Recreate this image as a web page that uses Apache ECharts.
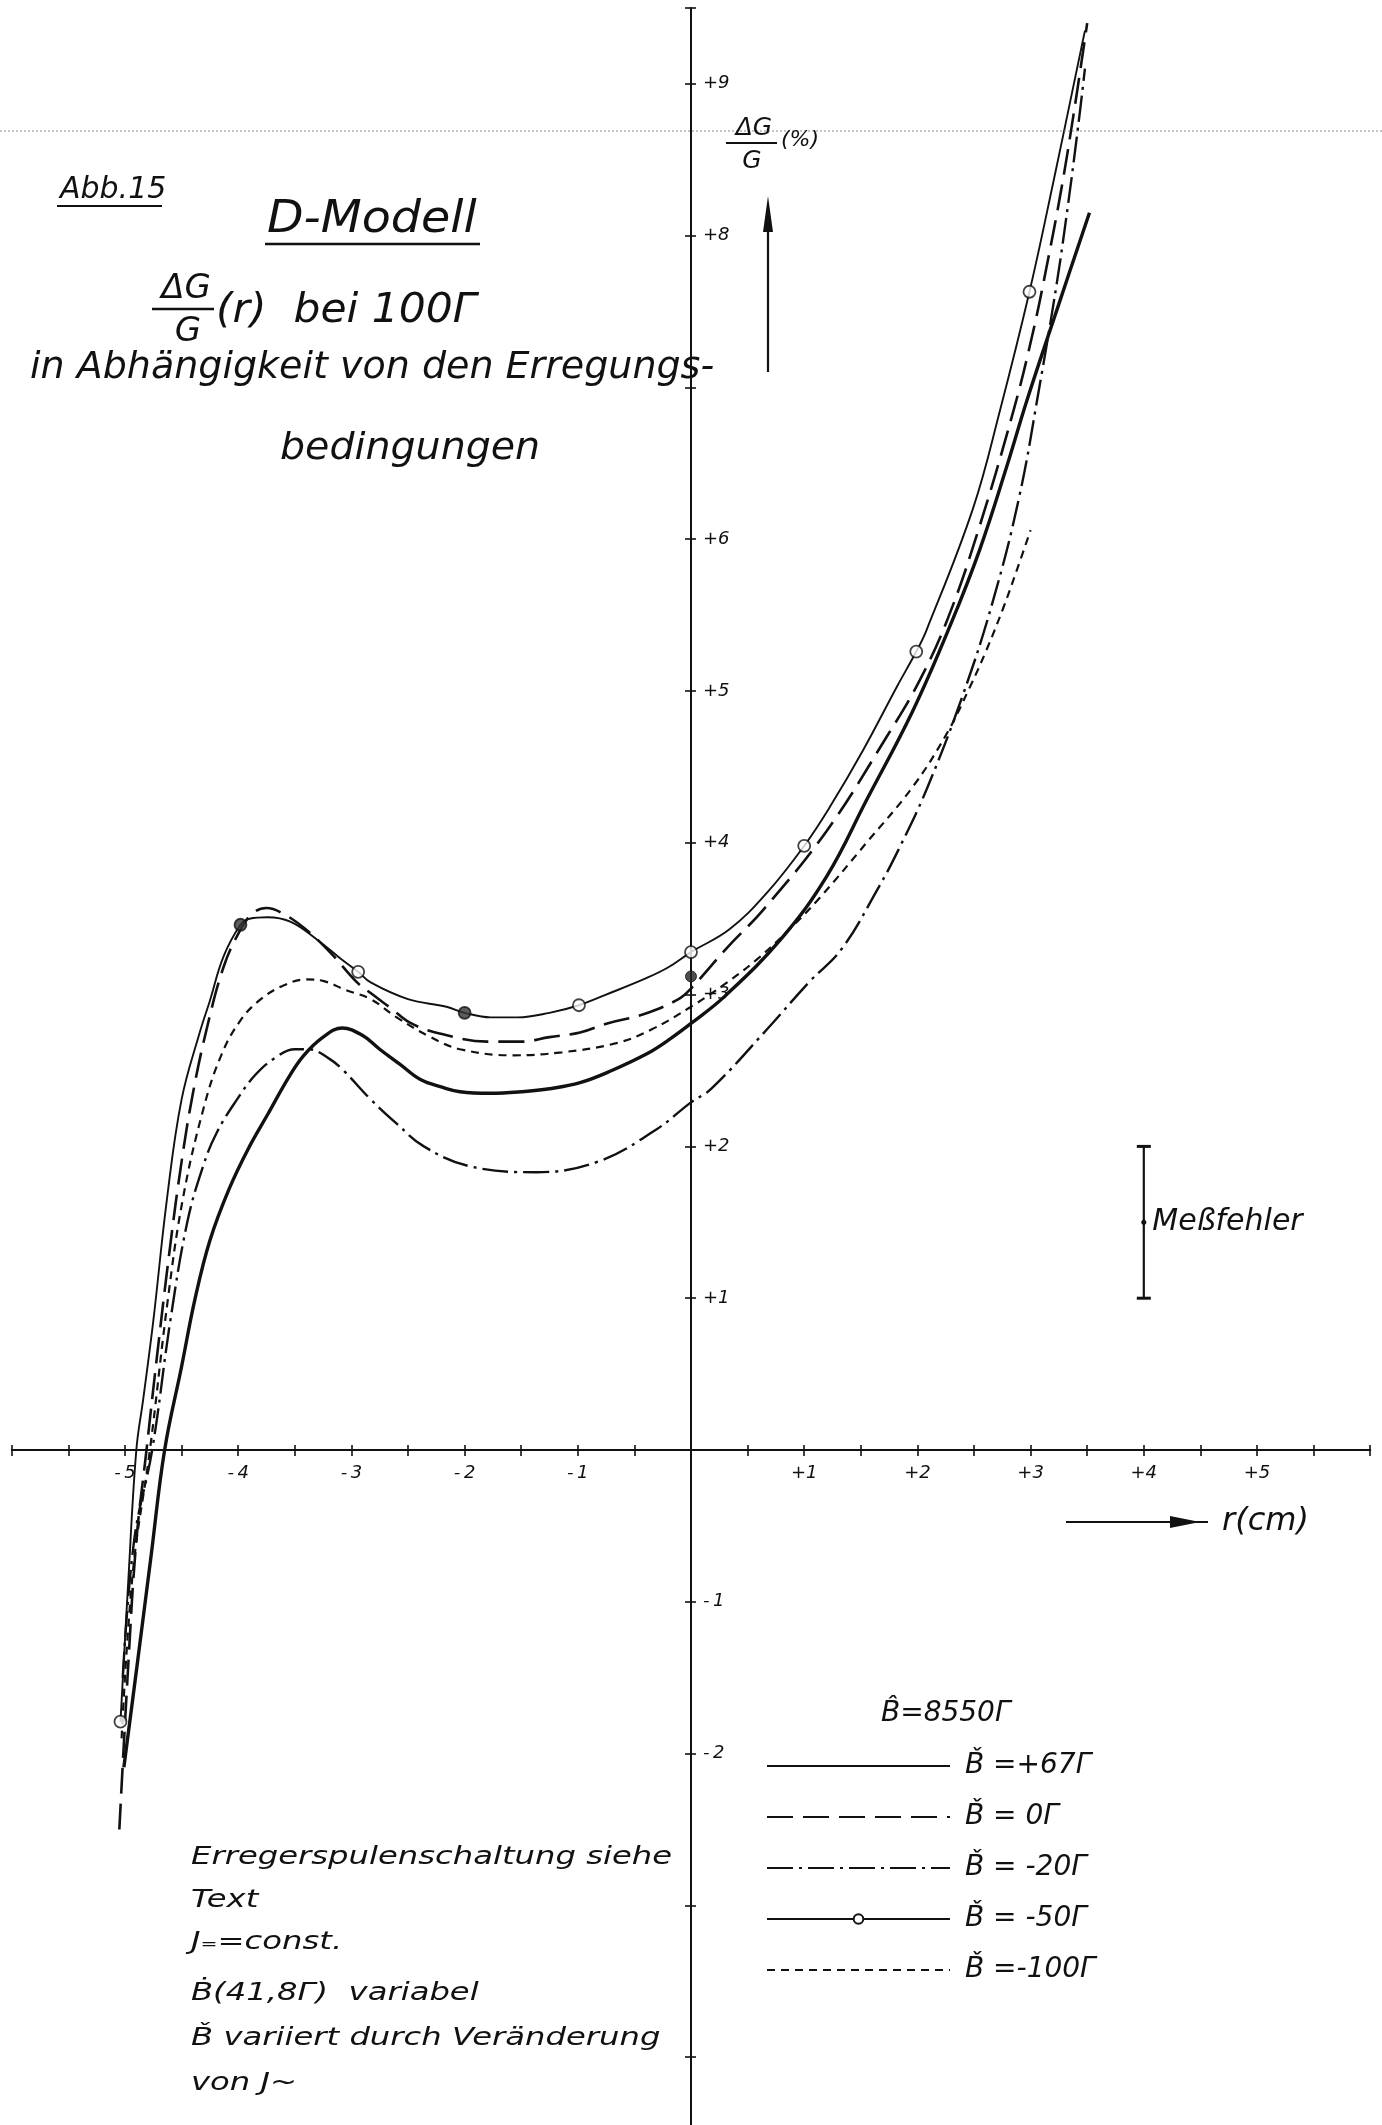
<!DOCTYPE html>
<html><head><meta charset="utf-8">
<script src="https://cdn.jsdelivr.net/npm/echarts@6/dist/echarts.min.js"></script>
<style>html,body{margin:0;padding:0;background:#fff}#c{width:1382px;height:2125px}</style>
</head><body><div id="c"></div>
<script>
const FF = '"DejaVu Sans", sans-serif';
const INK = '#111';

// ---------- axis labels ----------
const xLabelValues = [-5, -4, -3, -2, -1, 1, 2, 3, 4, 5];
const yLabelValues = [9, 8, 6, 5, 4, 3, 2, 1, -1, -2];

// ---------- series names ----------
const names = ['B\u030C =+67\u0393', 'B\u030C = 0\u0393', 'B\u030C = -20\u0393', 'B\u030C = -50\u0393', 'B\u030C =-100\u0393'];

// ---------- curves (r in cm, dG/G in %) ----------
const rP67 = [-5.01,-4.89,-4.77,-4.65,-4.50,-4.38,-4.25,-4.08,-3.90,-3.74,-3.55,-3.42,-3.25,-3.08,-2.90,-2.75,-2.57,-2.39,-2.20,-2.04,-1.77,-1.50,-1.25,-0.98,-0.70,-0.39,-0.20,0,0.30,0.80,1.20,1.55,1.96,2.30,2.55,2.79,2.97,3.25,3.52];
const gP67 = [-2.09,-1.40,-0.70,0,0.55,1.00,1.38,1.72,2.00,2.21,2.46,2.60,2.72,2.78,2.73,2.64,2.54,2.44,2.39,2.36,2.35,2.36,2.38,2.42,2.50,2.61,2.70,2.81,2.99,3.37,3.78,4.28,4.87,5.45,5.93,6.48,6.92,7.55,8.15];

const r0 = [-5.05,-4.97,-4.90,-4.81,-4.72,-4.60,-4.50,-4.40,-4.27,-4.13,-4.00,-3.88,-3.75,-3.62,-3.42,-3.19,-2.95,-2.83,-2.65,-2.47,-2.20,-1.80,-1.50,-1.25,-0.98,-0.74,-0.42,-0.11,0,0.32,0.64,1.20,1.73,2.02,2.27,2.53,2.85,3.02,3.14,3.27,3.38,3.50];
const g0 = [-2.50,-1.40,-0.60,0,0.60,1.35,1.90,2.35,2.80,3.18,3.40,3.53,3.57,3.54,3.44,3.28,3.08,3.01,2.91,2.81,2.74,2.69,2.69,2.72,2.75,2.81,2.87,2.97,3.04,3.31,3.56,4.08,4.70,5.07,5.48,6.04,6.85,7.36,7.79,8.30,8.80,9.40];

const rM20 = [-5.02,-4.92,-4.76,-4.60,-4.45,-4.31,-4.19,-4.01,-3.85,-3.68,-3.50,-3.38,-3.20,-3.07,-2.83,-2.60,-2.36,-1.96,-1.37,-0.82,-0.31,0,0.18,0.67,1.04,1.33,1.66,1.83,2.08,2.40,2.67,2.90,3.07,3.23,3.33,3.42,3.48];
const gM20 = [-1.50,-0.60,0,0.85,1.50,1.87,2.09,2.31,2.47,2.58,2.64,2.64,2.58,2.50,2.31,2.15,2.00,1.87,1.83,1.90,2.11,2.29,2.38,2.77,3.08,3.30,3.71,3.95,4.35,4.97,5.60,6.28,6.97,7.68,8.20,8.72,9.10];

const rM50 = [-5.04,-4.97,-4.90,-4.84,-4.75,-4.63,-4.50,-4.34,-4.25,-4.13,-3.98,-3.90,-3.74,-3.54,-3.30,-3.10,-2.94,-2.83,-2.50,-2.16,-2.00,-1.77,-1.53,-1.25,-0.99,-0.75,-0.39,-0.20,0,0.34,0.67,1.00,1.23,1.52,1.82,1.99,2.08,2.49,2.73,2.99,3.20,3.48];
const gM50 = [-1.79,-0.85,0,0.33,0.85,1.65,2.31,2.75,2.96,3.25,3.46,3.50,3.51,3.48,3.36,3.24,3.15,3.08,2.97,2.92,2.88,2.85,2.85,2.88,2.93,3.00,3.11,3.18,3.28,3.43,3.67,3.98,4.24,4.61,5.03,5.26,5.40,6.20,6.85,7.63,8.35,9.35];

const rM100 = [-5.03,-4.93,-4.78,-4.62,-4.49,-4.31,-4.15,-3.98,-3.80,-3.60,-3.40,-3.25,-3.05,-2.83,-2.60,-2.30,-2.04,-1.57,-1.14,-0.66,-0.35,0,0.30,0.58,0.87,1.14,1.55,1.96,2.26,2.46,2.61,2.76,2.88,3.00];
const gM100 = [-1.90,-0.80,0,1.00,1.65,2.24,2.60,2.83,2.97,3.06,3.10,3.09,3.03,2.97,2.85,2.72,2.64,2.60,2.62,2.68,2.77,2.92,3.07,3.23,3.43,3.64,4.00,4.37,4.72,5.02,5.27,5.55,5.80,6.06];

// measured points of the -50 curve (circles) and whether they are drawn dark
const measR = [-5.04,-3.98,-2.94,-2.00,-0.99,0,1.00,1.99,2.99];
const measG = [-1.79,3.46,3.15,2.88,2.93,3.28,3.98,5.26,7.63];
const measDark = [0,1,0,1,0,0,0,0,0];
// a separate dark point on the axis
const extraR = [0];
const extraG = [3.12];

// measuring error bar
const errR = [4, 4, 4];
const errG = [1, 1.5, 2];

// ---------- helpers ----------
const zip = (a, b) => a.map((v, i) => [v, b[i]]);
const sign = v => v > 0 ? '+' + v : '-\u2009' + Math.abs(v);

const baseLine = { type: 'line', symbol: 'circle', showSymbol: false, smooth: 0.4, animation: false, silent: true, z: 3 };

const series = [
  Object.assign({}, baseLine, { name: names[0], data: zip(rP67, gP67),
    lineStyle: { color: INK, width: 3.4, type: 'solid' }, itemStyle: { color: INK } }),
  Object.assign({}, baseLine, { name: names[1], data: zip(r0, g0),
    lineStyle: { color: INK, width: 2.6, type: [26, 10] }, itemStyle: { color: INK } }),
  Object.assign({}, baseLine, { name: names[2], data: zip(rM20, gM20),
    lineStyle: { color: INK, width: 2.4, type: [26, 6, 3, 6] }, itemStyle: { color: INK } }),
  Object.assign({}, baseLine, { name: names[3], data: zip(rM50, gM50), symbolSize: 10,
    lineStyle: { color: INK, width: 1.9, type: 'solid' }, itemStyle: { color: '#fff', borderColor: INK, borderWidth: 1.6 } }),
  Object.assign({}, baseLine, { name: names[4], data: zip(rM100, gM100),
    lineStyle: { color: INK, width: 2.2, type: [8, 6] }, itemStyle: { color: INK } }),
  { type: 'scatter', name: 'points', silent: true, animation: false, z: 5, symbol: 'circle', symbolSize: 12,
    data: measR.map((r, i) => ({ value: [r, measG[i]],
      itemStyle: { color: measDark[i] ? '#333' : '#fff', borderColor: INK, borderWidth: 1.8 } })) },
  { type: 'scatter', name: 'extra', silent: true, animation: false, z: 5, symbol: 'circle', symbolSize: 11,
    data: zip(extraR, extraG), itemStyle: { color: '#222', borderColor: INK, borderWidth: 1 } },
  { type: 'line', name: 'err', silent: true, animation: false, z: 4,
    lineStyle: { color: INK, width: 2.2 },
    data: errR.map((r, i) => ({ value: [r, errG[i]],
      symbol: i === 1 ? 'circle' : 'rect', symbolSize: i === 1 ? 5 : [14, 3],
      itemStyle: { color: INK },
      label: i === 1 ? { show: true, position: 'right', distance: 6, formatter: 'Me\u00DFfehler',
        fontFamily: FF, fontStyle: 'italic', fontSize: 30, color: INK } : { show: false } })) }
];

// ---------- annotations ----------
const graphics = [];
function txt(s, x, y, size, sx, align) {
  graphics.push({ type: 'text', x: x, y: y, scaleX: sx || 1, z: 10, silent: true,
    style: { text: s, font: 'italic ' + size + 'px ' + FF, fill: INK, textAlign: align || 'left', textVerticalAlign: 'middle' } });
}
function ln(x1, y1, x2, y2, w, dash, col) {
  graphics.push({ type: 'line', z: 10, silent: true, shape: { x1, y1, x2, y2 },
    style: { stroke: col || INK, lineWidth: w, lineDash: dash || null } });
}
function tri(pts) {
  graphics.push({ type: 'polygon', z: 10, silent: true, shape: { points: pts }, style: { fill: INK } });
}
// scan fold line
ln(0, 131, 1382, 131, 1.2, [2, 2], '#8a8a8a');
// titles
txt('Abb.15', 60, 190, 30);
ln(57, 206, 162, 206, 2.2);
txt('D-Modell', 267, 221, 44, 1.08);
ln(265, 244, 480, 244, 2.5);
txt('\u0394G', 186, 289, 34, 1, 'center');
ln(152, 309, 214, 309, 2.5);
txt('G', 188, 332, 34, 1, 'center');
txt('(r)  bei 100\u0393', 216, 312, 40, 1.06);
txt('in Abh\u00E4ngigkeit von den Erregungs-', 30, 368, 38);
txt('bedingungen', 280, 449, 38, 1.04);
// y axis title
txt('\u0394G', 754, 128, 25, 1, 'center');
ln(726, 143, 777, 143, 2.2);
txt('G', 752, 161, 25, 1, 'center');
txt('(%)', 781, 140, 22);
ln(768, 372, 768, 220, 2.2);
tri([[768, 196], [763, 232], [773, 232]]);
// x axis title
ln(1066, 1522, 1208, 1522, 2.2);
tri([[1200, 1522], [1170, 1516], [1170, 1528]]);
txt('r(cm)', 1222, 1522, 32);
// legend title
txt('B\u0302=8550\u0393', 881, 1714, 28);
// notes
txt('Erregerspulenschaltung siehe', 191, 1857, 25, 1.29);
txt('Text', 191, 1900, 25, 1.29);
txt('J\u208C=const.', 191, 1942, 25, 1.29);
txt('B\u0307(41,8\u0393)  variabel', 191, 1993, 25, 1.29);
txt('B\u030C variiert durch Ver\u00E4nderung', 191, 2038, 25, 1.29);
txt('von J~', 191, 2083, 25, 1.29);

// ---------- chart ----------
const chart = echarts.init(document.getElementById('c'), null, { renderer: 'canvas' });
const tick = (len) => ({ show: true, inside: false, length: len, lineStyle: { color: INK, width: 1.6 } });
const hid = (grid) => ({ type: 'value', gridIndex: grid, show: false, min: 0, max: 1 });
const noBounds = { outerBoundsMode: 'none', containLabel: false };
chart.setOption({
  animation: false,
  backgroundColor: '#fff',
  grid: [
    Object.assign({ left: 11.8, top: 7.9, width: 1358.4, height: 2201.1 }, noBounds),  // plot (-5 .. 9.5)
    Object.assign({ left: 11.8, top: 0, width: 1358.4, height: 1450 }, noBounds),      // x labels
    Object.assign({ left: 691, top: 83.8, width: 679.2, height: 1973.4 }, noBounds)    // y labels (-4 .. 9)
  ],
  xAxis: [
    { type: 'value', gridIndex: 0, min: -6, max: 6, interval: 0.5, position: 'bottom',
      axisLine: { show: true, onZero: true, onZeroAxisIndex: 0, lineStyle: { color: INK, width: 2 } },
      splitLine: { show: false }, axisTick: tick(6), axisLabel: { show: false } },
    { type: 'value', gridIndex: 0, min: -6, max: 6, interval: 0.5, position: 'top',
      axisLine: { show: false, onZero: true, onZeroAxisIndex: 0 },
      splitLine: { show: false }, axisTick: tick(5), axisLabel: { show: false } },
    { type: 'value', gridIndex: 1, min: -6, max: 6, interval: 0.5, position: 'bottom',
      axisLine: { show: false, onZero: false }, axisTick: { show: false }, splitLine: { show: false },
      axisLabel: { show: true, margin: 14, fontFamily: FF, fontStyle: 'italic', fontSize: 18, color: INK,
        formatter: v => xLabelValues.includes(v) ? sign(v) : '' } },
    hid(2)
  ],
  yAxis: [
    { type: 'value', gridIndex: 0, min: -5, max: 9.5, interval: 1, position: 'left',
      axisLine: { show: true, onZero: true, onZeroAxisIndex: 0, lineStyle: { color: INK, width: 2 } },
      splitLine: { show: false }, axisTick: tick(6), axisLabel: { show: false } },
    { type: 'value', gridIndex: 0, min: -5, max: 9.5, interval: 1, position: 'right',
      axisLine: { show: false, onZero: true, onZeroAxisIndex: 0 },
      splitLine: { show: false }, axisTick: tick(5), axisLabel: { show: false } },
    hid(1),
    { type: 'value', gridIndex: 2, min: -4, max: 9, interval: 1, position: 'left',
      axisLine: { show: false, onZero: false }, axisTick: { show: false }, splitLine: { show: false },
      axisLabel: { show: true, inside: true, margin: 12, fontFamily: FF, fontStyle: 'italic', fontSize: 18, color: INK,
        formatter: v => yLabelValues.includes(v) ? sign(v) : '' } }
  ],
  legend: {
    data: names.map((n, i) => i === 3 ? { name: n } : { name: n, itemStyle: { opacity: 0 } }),
    orient: 'vertical', left: 766, top: 1751, padding: 0,
    itemWidth: 183, itemHeight: 12, itemGap: 21, selectedMode: false,
    textStyle: { fontFamily: FF, fontStyle: 'italic', fontSize: 28, color: INK, lineHeight: 30, padding: [0, 0, 0, 10] }
  },
  series: series,
  graphic: graphics
});
</script>
</body></html>
